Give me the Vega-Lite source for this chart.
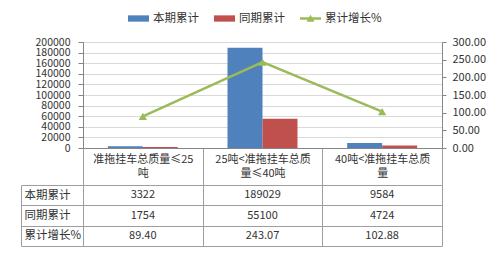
{
  "$schema": "https://vega.github.io/schema/vega-lite/v6.json",
  "padding": {"left": 20, "top": 8, "right": 0, "bottom": 0},
  "background": "white",
  "datasets": {
    "d": [
      {"category": "准拖挂车总质量≤25吨", "本期累计": 3322, "同期累计": 1754, "累计增长%": 89.40},
      {"category": "25吨<准拖挂车总质量≤40吨", "本期累计": 189029, "同期累计": 55100, "累计增长%": 243.07},
      {"category": "40吨<准拖挂车总质量", "本期累计": 9584, "同期累计": 4724, "累计增长%": 102.88}
    ]
  },
  "config": {
    "font": "Noto Sans CJK SC",
    "view": {"stroke": null},
    "axis": {
      "labelFontSize": 11,
      "labelColor": "#333333",
      "domainColor": "#868686",
      "tickColor": "#868686",
      "gridColor": "#d9d9d9",
      "labelFont": "Noto Sans CJK SC",
      "labelOverlap": false,
      "labelBound": false
    },
    "legend": {"labelFont": "Noto Sans CJK SC"}
  },
  "bounds": "flush",
  "spacing": 37,
  "vconcat": [
    {
      "width": 359,
      "height": 106,
      "data": {"name": "d"},
      "layer": [
        {
          "transform": [{"fold": ["本期累计", "同期累计"], "as": ["series", "value"]}],
          "mark": {"type": "bar"},
          "encoding": {
            "x": {
              "field": "category", "type": "nominal", "sort": null,
              "scale": {"paddingInner": 0, "paddingOuter": 0},
              "axis": {
                "title": null, "labelAngle": 0, "tickBand": "extent", "tickSize": 37,
                "tickColor": "#9e9e9e", "labelPadding": -32, "labelBaseline": "top",
                "labelLineHeight": 14, "labelLimit": 0, "labelFontSize": 11,
                "labelExpr": "[substring(datum.label, 0, 10), substring(datum.label, 10)]"
              }
            },
            "xOffset": {
              "field": "series", "type": "nominal", "sort": ["本期累计", "同期累计"],
              "scale": {"paddingInner": 0, "paddingOuter": 0.71}
            },
            "y": {
              "field": "value", "type": "quantitative",
              "scale": {"domain": [0, 200000], "nice": false},
              "axis": {
                "title": null, "format": "d", "grid": true, "tickSize": 5, "labelPadding": 8,
                "labelFontSize": 10.5,
                "values": [0, 20000, 40000, 60000, 80000, 100000, 120000, 140000, 160000, 180000, 200000]
              }
            },
            "color": {
              "field": "series", "type": "nominal",
              "scale": {"domain": ["本期累计", "同期累计", "累计增长%"], "range": ["#4F81BD", "#C0504D", "#9BBB59"]},
              "legend": {
                "title": null, "orient": "none", "legendX": 45, "legendY": -34,
                "direction": "horizontal", "symbolSize": 441, "labelFontSize": 11.5,
                "labelColor": "#333333", "columnPadding": 15, "labelOffset": 4, "padding": 0,
                "symbolStrokeWidth": 0,
                "encode": {
                  "symbols": {
                    "update": {
                      "shape": {"signal": "datum.value === '累计增长%' ? 'M-1,-0.12H1V0.12H-1Z M-0.38,0.3L0,-0.36L0.38,0.3Z' : 'M-1,-0.3H1V0.3H-1Z'"},
                      "fill": {"signal": "datum.value === '本期累计' ? '#4F81BD' : datum.value === '同期累计' ? '#C0504D' : '#9BBB59'"},
                      "strokeWidth": {"value": 0},
                      "opacity": {"value": 1}
                    }
                  }
                }
              }
            }
          }
        },
        {
          "layer": [
            {
              "mark": {"type": "line", "strokeWidth": 2.5},
              "encoding": {
                "x": {"field": "category", "type": "nominal", "sort": null},
                "y": {
                  "field": "累计增长%", "type": "quantitative",
                  "scale": {"domain": [0, 300], "nice": false},
                  "axis": {
                    "title": null, "format": ".2f", "grid": false, "tickSize": 4, "labelPadding": 6,
                    "values": [0, 50, 100, 150, 200, 250, 300]
                  }
                },
                "color": {"datum": "累计增长%"}
              }
            },
            {
              "mark": {"type": "point", "shape": "triangle-up", "filled": true, "size": 70, "opacity": 1},
              "encoding": {
                "x": {"field": "category", "type": "nominal", "sort": null},
                "y": {
                  "field": "累计增长%", "type": "quantitative",
                  "axis": {
                    "title": null, "format": ".2f", "grid": false, "tickSize": 4, "labelPadding": 6,
                    "values": [0, 50, 100, 150, 200, 250, 300]
                  }
                },
                "color": {"datum": "累计增长%"}
              }
            }
          ]
        }
      ],
      "resolve": {"scale": {"y": "independent"}}
    },
    {
      "width": 359,
      "height": 61,
      "data": {"name": "d"},
      "encoding": {
        "x": {
          "field": "category", "type": "nominal", "sort": null,
          "scale": {"paddingInner": 0, "paddingOuter": 0},
          "axis": {"title": null, "labels": false, "ticks": false, "domain": false, "grid": true, "tickBand": "extent", "gridColor": "#9e9e9e"}
        }
      },
      "layer": [
        {
          "mark": {"type": "text", "fontSize": 11, "color": "#333333"},
          "encoding": {
            "y": {
              "datum": "本期累计", "type": "nominal",
              "scale": {"domain": ["本期累计", "同期累计", "累计增长%"], "paddingInner": 0, "paddingOuter": 0},
              "axis": {
                "title": null, "orient": "left", "offset": 62, "tickSize": -62, "tickBand": "extent",
                "grid": true, "gridColor": "#9e9e9e", "tickColor": "#9e9e9e", "domainColor": "#9e9e9e",
                "labelAlign": "left", "labelPadding": 59, "labelFontSize": 11.5, "labelColor": "#333333"
              }
            },
            "text": {"field": "本期累计", "type": "quantitative", "format": "d"}
          }
        },
        {
          "mark": {"type": "text", "fontSize": 11, "color": "#333333"},
          "encoding": {
            "y": {"datum": "同期累计", "type": "nominal"},
            "text": {"field": "同期累计", "type": "quantitative", "format": "d"}
          }
        },
        {
          "mark": {"type": "text", "fontSize": 11, "color": "#333333"},
          "encoding": {
            "y": {"datum": "累计增长%", "type": "nominal"},
            "text": {"field": "累计增长%", "type": "quantitative", "format": ".2f"}
          }
        }
      ]
    }
  ]
}
